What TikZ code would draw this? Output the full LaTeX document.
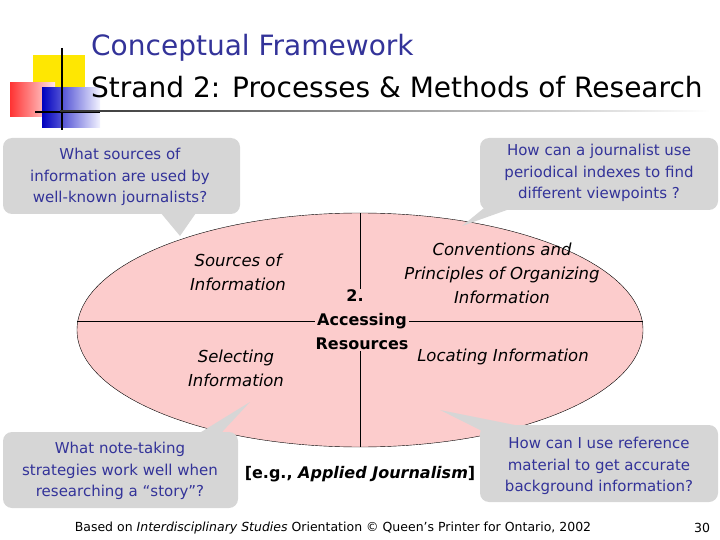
\documentclass[tikz,border=0pt]{standalone}
\usepackage{fontspec}
\setmainfont{DejaVu Sans}
\usetikzlibrary{shadings}
\definecolor{navy}{RGB}{51,51,153}
\definecolor{pinkfill}{RGB}{252,204,204}
\definecolor{callg}{RGB}{214,214,214}
\tikzset{
 callbox/.style={fill=callg,rounded corners=9pt},
 calltext/.style={text=navy,font=\fontsize{15}{21.5}\selectfont,align=center},
 intext/.style={font=\fontsize{16.5}{24}\selectfont\itshape,align=center},
 boldtext/.style={font=\fontsize{16}{24}\selectfont\bfseries,align=center,fill=pinkfill,inner sep=1pt}
}
\begin{document}
\begin{tikzpicture}[x=1pt,y=-1pt]
\useasboundingbox (0,0) rectangle (720,540);
% logo
\fill[yellow!90!orange] (33,55) rectangle (85,100);
\shade[left color=red!80!white,right color=red!10!white] (10,83) rectangle (55,117);
\shade[left color=blue!75!black,right color=blue!5!white] (42,88) rectangle (100,128);
\draw[line width=1.5pt] (62,48) -- (62,130);
\draw[line width=1.5pt] (35,112) -- (100,112);
\shade[left color=black!80,right color=white] (60,110.5) rectangle (710,112);
% title
\node[anchor=west,text=navy,font=\fontsize{28}{30}\selectfont,inner sep=0pt] (t1) at (91,48) {Conceptual Framework};
\node[anchor=west,font=\fontsize{28}{30}\selectfont,inner sep=0pt] (t2) at (91,87) {Strand 2: Processes \& Methods of Research};
% ellipse
\draw[fill=pinkfill] (360,330) ellipse [x radius=283,y radius=117];
\coordinate (vt) at (360,213); \coordinate (vb) at (360,447);
\coordinate (hl) at (77,321); \coordinate (hr) at (643,321);
\draw (vt) -- (vb); \draw (hl) -- (hr);
% callouts
\fill[callg] (150,200) -- (180,236) -- (205,200) -- cycle;
\fill[callbox] (3,138) rectangle (240,214);
\node[calltext] (c1) at (120,177) {What sources of\\information are used by\\well-known journalists?};
\fill[callg] (500,195) -- (462,226) -- (535,200) -- cycle;
\fill[callbox] (480,138) rectangle (718,210);
\node[calltext] (c2) at (599,173) {How can a journalist use\\periodical indexes to find\\different viewpoints ?};
\fill[callg] (180,445) -- (250,402) -- (210,445) -- cycle;
\fill[callbox] (3,432) rectangle (238,508);
\node[calltext] (c3) at (120,471) {What note-taking\\strategies work well when\\researching a “story”?};
\fill[callg] (500,440) -- (440,410) -- (540,430) -- cycle;
\fill[callbox] (480,425) rectangle (718,502);
\node[calltext] (c4) at (599,466) {How can I use reference\\material to get accurate\\background information?};
% inner texts
\node[intext] (s1) at (238,272) {Sources of\\Information};
\node[intext] (s2) at (236,368) {Selecting\\Information};
\node[intext] (s3) at (502,273) {Conventions and\\Principles of Organizing\\Information};
\node[intext] (s4) at (503,357) {Locating Information};
\node[boldtext] (ar) at (362,320) {\hspace*{-14pt}2.\\Accessing\\Resources};
\node[boldtext,fill=none] (eg) at (360,474) {[e.g., \textit{Applied Journalism}]};
% footer
\node[font=\fontsize{12.5}{14}\selectfont] (ft) at (333,528) {Based on \textit{Interdisciplinary Studies} Orientation © Queen’s Printer for Ontario, 2002};
\node[font=\fontsize{12.5}{14}\selectfont] (pg) at (702,528) {30};
\end{tikzpicture}
\end{document}
